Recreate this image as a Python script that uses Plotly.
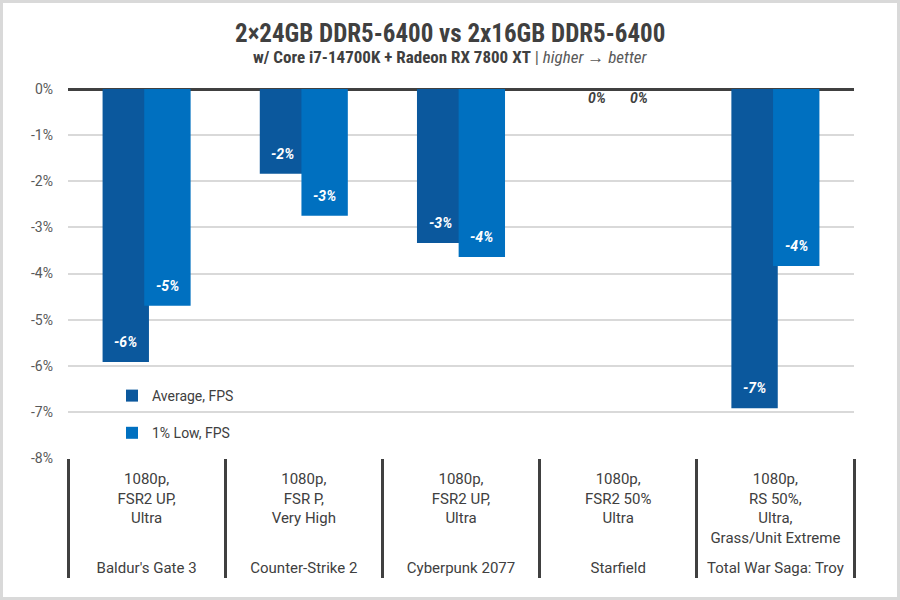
import plotly.graph_objects as go

games = ["Baldur's Gate 3", "Counter-Strike 2", "Cyberpunk 2077", "Starfield", "Total War Saga: Troy"]
settings = ["1080p,<br>FSR2 UP,<br>Ultra", "1080p,<br>FSR P,<br>Very High", "1080p,<br>FSR2 UP,<br>Ultra",
            "1080p,<br>FSR2 50%<br>Ultra", "1080p,<br>RS 50%,<br>Ultra,<br>Grass/Unit Extreme"]
avg_fps = [-5.92, -1.84, -3.34, 0.0, -6.92]
low_fps = [-4.70, -2.75, -3.64, 0.0, -3.84]
series_names = ["Average, FPS", "1% Low, FPS"]
colors = ["#0b589d", "#0070c0"]
y_ticks = [0, -1, -2, -3, -4, -5, -6, -7, -8]

offsets = [-0.28, -0.015]
width = 0.295

W, H = 900, 600
ml, mr, mt, mb = 68, 46, 89, 142
pw, ph = W - ml - mr, H - mt - mb

def fmt(v):
    r = round(v)
    return f"{int(r) if r != 0 else 0}%"

# extra blank line below inner labels pushes the game names down
settings_disp = [s + "<br><span style='font-size:22px'> </span>" for s in settings]

label_font = dict(family="Roboto", size=14, weight="bold", style="italic")

fig = go.Figure()
annotations = []
for k, (vals, name) in enumerate(zip([avg_fps, low_fps], series_names)):
    fig.add_trace(go.Bar(
        x=[games, settings_disp], y=vals, name=name,
        marker=dict(color=colors[k], line=dict(width=0)),
        offset=offsets[k], width=width,
        legendgroup=name,
    ))
    for i, v in enumerate(vals):
        xc = (i + 0.5 + offsets[k] + width / 2) / len(games)
        inside = round(v) != 0
        annotations.append(dict(
            x=xc, xref="paper", y=v, yref="y", text=fmt(v), showarrow=False,
            xanchor="center", yanchor="middle", yshift=20 if inside else -9,
            font=dict(label_font, color="white" if inside else "#404040")))

annotations.append(dict(
    x=(W / 2 - ml) / pw, xref="paper", y=1 + (mt - 33) / ph, yref="paper",
    text="2×24GB DDR5-6400 vs 2x16GB DDR5-6400", showarrow=False,
    xanchor="center", yanchor="middle",
    font=dict(family="Roboto Condensed, Liberation Sans Narrow, Roboto", size=25, color="#404040", weight="bold")))
annotations.append(dict(
    x=(W / 2 - ml) / pw, xref="paper", y=1 + (mt - 57) / ph, yref="paper",
    text="<b>w/ Core i7-14700K + Radeon RX 7800 XT</b> <span style='color:#595959'>| <i>higher → better</i></span>",
    showarrow=False, xanchor="center", yanchor="middle",
    font=dict(family="Roboto Condensed, Liberation Sans Narrow, Roboto", size=17, color="#404040")))

fig.update_layout(
    width=W, height=H,
    margin=dict(l=ml, r=mr, t=mt, b=mb, autoexpand=False),
    paper_bgcolor="white", plot_bgcolor="white",
    barmode="overlay",
    showlegend=True,
    legend=dict(x=(112 - ml) / pw, y=(458 - 380) / ph, xanchor="left", yanchor="top",
                bgcolor="rgba(0,0,0,0)", tracegroupgap=16, itemwidth=30,
                font=dict(family="Roboto", size=14, color="#404040")),
    xaxis=dict(type="multicategory", showgrid=False, ticks="", showline=False, automargin=False,
               showdividers=True, dividercolor="#404040", dividerwidth=2.5, ticklabelstandoff=10,
               tickfont=dict(family="Roboto", size=15, color="#404040")),
    yaxis=dict(range=[-8, 0], tickvals=y_ticks, ticktext=[f"{t}%" for t in y_ticks],
               showgrid=True, gridcolor="#d9d9d9", gridwidth=1.5, automargin=False,
               zeroline=True, zerolinecolor="#404040", zerolinewidth=2.5,
               ticks="", ticklabelstandoff=14,
               tickfont=dict(family="Roboto", size=14, color="#595959")),
    annotations=annotations,
    shapes=[dict(type="rect", xref="paper", yref="paper",
                 x0=(1.5 - ml) / pw, x1=(W - 1.5 - ml) / pw,
                 y0=-(mb - 1.5) / ph, y1=1 + (mt - 1.5) / ph,
                 line=dict(color="#d9d9d9", width=3), layer="below")],
)

fig.write_html("out.html", config={"displayModeBar": False},
               post_script="document.body.style.margin='0';document.body.style.overflow='hidden';")
